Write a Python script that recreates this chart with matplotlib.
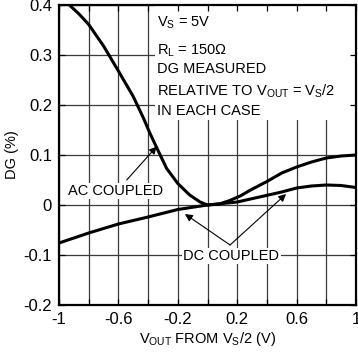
import matplotlib
matplotlib.use("Agg")
import matplotlib.pyplot as plt
from matplotlib.patches import Rectangle

plt.rcParams['font.family'] = ['Liberation Sans', 'DejaVu Sans']
plt.rcParams['mathtext.default'] = 'regular'

# Data
ac_x = [-0.93, -0.865, -0.8, -0.7, -0.6, -0.5, -0.43, -0.39, -0.33, -0.275, -0.2, -0.12,
        -0.05, 0.0, 0.08, 0.15, 0.22, 0.29, 0.4, 0.5, 0.6, 0.7, 0.8, 0.9, 1.0]
ac_y = [0.4, 0.382, 0.361, 0.318, 0.268, 0.217, 0.173, 0.145, 0.107, 0.073, 0.043, 0.02,
        0.006, 0.0, 0.002, 0.009, 0.018, 0.03, 0.047, 0.064, 0.076, 0.086, 0.094, 0.098, 0.1]
dc_x = [-1.0, -0.8, -0.6, -0.4, -0.2, 0.0, 0.2, 0.35, 0.5, 0.6, 0.7, 0.8, 0.9, 1.0]
dc_y = [-0.076, -0.056, -0.038, -0.024, -0.009, 0.0, 0.006, 0.016, 0.026, 0.034,
        0.038, 0.04, 0.039, 0.035]

x_ticks = [-1.0, -0.8, -0.6, -0.4, -0.2, 0.0, 0.2, 0.4, 0.6, 0.8, 1.0]
x_tick_labels = ['-1', '', '-0.6', '', '-0.2', '', '0.2', '', '0.6', '', '1']
y_ticks = [-0.2, -0.1, 0.0, 0.1, 0.2, 0.3, 0.4]
y_tick_labels = ['-0.2', '-0.1', '0', '0.1', '0.2', '0.3', '0.4']

FS = 10.5
TFS = 12
fig = plt.figure(figsize=(3.58, 3.55), dpi=100)
ax = fig.add_axes([59/358, 50/355, 297/358, 300/355])
ax.set_xlim(-1, 1)
ax.set_ylim(-0.2, 0.4)

for xv in x_ticks:
    ax.axvline(xv, color='#3a3a3a', lw=0.9, zorder=1)
for yv in y_ticks:
    ax.axhline(yv, color='#3a3a3a', lw=0.9, zorder=1)

# white box behind the conditions text
ax.add_patch(Rectangle((-0.354, 0.17), 1.354, 0.23, facecolor='white',
                       edgecolor='none', zorder=1.5))

ax.plot(ac_x, ac_y, color='black', lw=2.2, zorder=3, solid_capstyle='butt')
ax.plot(dc_x, dc_y, color='black', lw=2.2, zorder=3, solid_capstyle='butt')

ax.set_axisbelow(False)
ax.set_xticks(x_ticks)
ax.set_xticklabels(x_tick_labels)
ax.set_yticks(y_ticks)
ax.set_yticklabels(y_tick_labels)
ax.tick_params(direction='in', length=4, width=0.9, top=True, right=True,
               labelsize=TFS, colors='black')
ax.tick_params(axis='x', pad=5)
ax.tick_params(axis='y', pad=5)
for s in ax.spines.values():
    s.set_linewidth(1.6)

# conditions text
tx = (157 - 59) / 297
lines = [
    (27, r"$V_S$ = 5V"),
    (55, r"$R_L$ = 150Ω"),
    (73, "DG MEASURED"),
    (95.5, r"RELATIVE TO $V_{OUT}$ = $V_S$/2"),
    (115, "IN EACH CASE"),
]
for ypx, t in lines:
    ax.text(tx, (305 - ypx) / 300, t, transform=ax.transAxes, fontsize=FS,
            va='baseline', ha='left', zorder=4)

arrow = dict(arrowstyle='-|>', color='black', lw=0.8, mutation_scale=11,
             shrinkA=0, shrinkB=0)
ax.annotate('', xy=(-0.342, 0.117), xytext=(-0.544, 0.05), arrowprops=arrow, zorder=4)
ax.text(-0.616, 0.028, 'AC COUPLED', fontsize=FS, ha='center', va='center',
        zorder=5, bbox=dict(facecolor='white', edgecolor='none', pad=1))

ax.annotate('', xy=(-0.152, -0.018), xytext=(0.152, -0.08), arrowprops=arrow, zorder=4)
ax.annotate('', xy=(0.529, 0.022), xytext=(0.152, -0.08), arrowprops=arrow, zorder=4)
ax.text(0.16, -0.102, 'DC COUPLED', fontsize=FS, ha='center', va='center',
        zorder=5, bbox=dict(facecolor='white', edgecolor='none', pad=1))

fig.text(12/358, 1 - 155/355, 'DG (%)', rotation=90, fontsize=FS,
         ha='center', va='center')
fig.text(207.5/358, 1 - 343/355, r"$V_{OUT}$ FROM $V_S$/2 (V)", fontsize=FS,
         ha='center', va='baseline')

fig.savefig('out.png', dpi=100)
